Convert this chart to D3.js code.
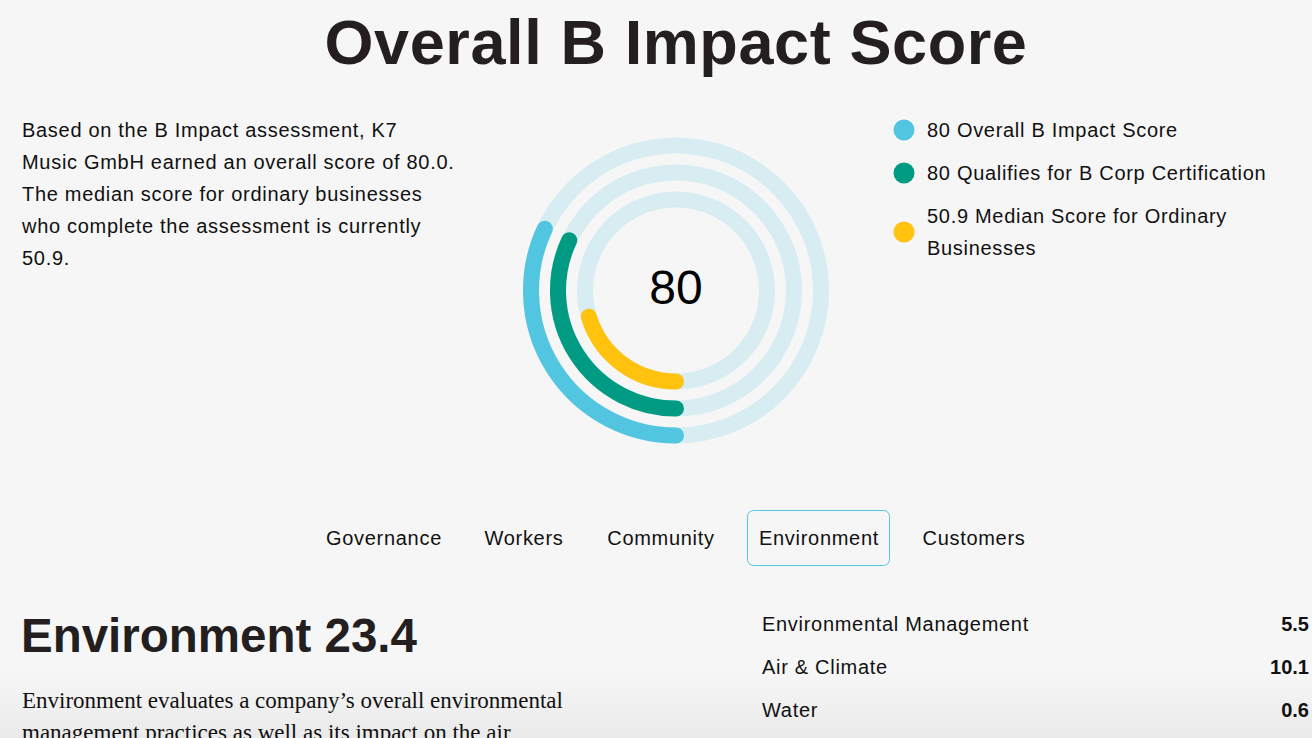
<!DOCTYPE html>
<html><head><meta charset="utf-8">
<script src="https://cdn.jsdelivr.net/npm/d3@7"></script>
<style>
html,body{margin:0;padding:0;background:#f6f6f6;overflow:hidden}
svg{display:block}
</style></head><body>
<svg id="c" width="1312" height="738"></svg>
<script>
const title = "Overall B Impact Score";
const introLines = ["Based on the B Impact assessment, K7","Music GmbH earned an overall score of 80.0.","The median score for ordinary businesses","who complete the assessment is currently","50.9."];
const seriesNames = ["Overall B Impact Score","Qualifies for B Corp Certification","Median Score for Ordinary Businesses"];
const seriesValues = [80, 80, 50.9];
const seriesColors = ["#52c6e0","#009b82","#ffc20e"];
const scoreMax = 250;
const centerLabel = "80";
const tabs = ["Governance","Workers","Community","Environment","Customers"];
const activeTab = "Environment";
const sectionTitle = "Environment 23.4";
const sectionText = ["Environment evaluates a company\u2019s overall environmental","management practices as well as its impact on the air,"];
const subCats = ["Environmental Management","Air & Climate","Water"];
const subVals = [5.5, 10.1, 0.6];

const svg = d3.select("#c");
const sans = "'Liberation Sans', Arial, Helvetica, sans-serif";
const FS = 20, LS = 0.7;
const defs = svg.append("defs");
const g1 = defs.append("linearGradient").attr("id","fade").attr("x1",0).attr("y1",0).attr("x2",0).attr("y2",1);
g1.append("stop").attr("offset","0%").attr("stop-color","#000").attr("stop-opacity",0);
g1.append("stop").attr("offset","100%").attr("stop-color","#000").attr("stop-opacity",0.05);

svg.append("text").attr("x",676).attr("y",64).attr("text-anchor","middle")
  .attr("font-family",sans).attr("font-weight","bold").attr("font-size",63).attr("letter-spacing",0.6)
  .attr("fill","#231f20").text(title);

svg.append("g").selectAll("text").data(introLines).join("text")
  .attr("x",22).attr("y",(d,i)=>137+i*32).attr("font-family",sans).attr("font-size",FS).attr("letter-spacing",LS)
  .attr("fill","#111").text(d=>d);

// rings
const cx=676, cy=290.5;
const radii=[145,118,91];
const ang = d3.scaleLinear().domain([0,scoreMax]).range([Math.PI, 3*Math.PI]);
const ring = svg.append("g").attr("transform",`translate(${cx},${cy})`);
ring.selectAll("circle.track").data(radii).join("circle").attr("class","track")
  .attr("r",d=>d).attr("fill","none").attr("stroke","#d7edf2").attr("stroke-width",16);
function arcPath(r,v){
  const p=d3.path();
  const a0=ang(0)-Math.PI/2, a1=ang(v)-Math.PI/2;
  p.arc(0,0,r,a0,a1,false);
  return p.toString();
}
ring.selectAll("path.val").data(seriesValues).join("path").attr("class","val")
  .attr("d",(d,i)=>arcPath(radii[i],d)).attr("fill","none")
  .attr("stroke",(d,i)=>seriesColors[i]).attr("stroke-width",16).attr("stroke-linecap","round");
ring.append("text").attr("x",0).attr("y",13.5).attr("text-anchor","middle")
  .attr("font-family",sans).attr("font-size",48).attr("fill","#000").text(centerLabel);

// legend
const legY=[130,173,232];
const leg = svg.append("g");
seriesNames.forEach((n,i)=>{
  leg.append("circle").attr("cx",904).attr("cy",legY[i]).attr("r",10.5).attr("fill",seriesColors[i]);
});
const lt = (x,y)=>leg.append("text").attr("x",x).attr("y",y).attr("font-family",sans).attr("font-size",FS).attr("letter-spacing",LS).attr("fill","#111");
lt(927,137).text(seriesValues[0]+" "+seriesNames[0]);
lt(927,180).text(seriesValues[1]+" "+seriesNames[1]);
const t3=lt(927,223);
t3.append("tspan").attr("x",927).attr("y",223).text(seriesValues[2]+" Median Score for Ordinary");
t3.append("tspan").attr("x",927).attr("y",255).text("Businesses");

// tabs
const tabX=[384,524,661,819,974];
svg.append("rect").attr("x",747.5).attr("y",510.5).attr("width",142).attr("height",55).attr("rx",6)
  .attr("fill","none").attr("stroke","#52c6e0").attr("stroke-width",1);
svg.append("g").selectAll("text").data(tabs).join("text")
  .attr("x",(d,i)=>tabX[i]).attr("y",545).attr("text-anchor","middle")
  .attr("font-family",sans).attr("font-size",FS).attr("letter-spacing",LS).attr("fill","#111").text(d=>d);

// section
svg.append("text").attr("x",21).attr("y",652).attr("font-family",sans).attr("font-weight","bold")
  .attr("font-size",47.5).attr("fill","#231f20").text(sectionTitle);
svg.append("g").selectAll("text").data(sectionText).join("text")
  .attr("x",22).attr("y",(d,i)=>708+i*32).attr("font-family","'Liberation Serif', Georgia, serif")
  .attr("font-size",23).attr("fill","#111").text(d=>d);

const yRow = d3.scalePoint().domain(subCats).range([631,717]);
svg.append("g").selectAll("text").data(subCats).join("text")
  .attr("x",762).attr("y",d=>yRow(d)).attr("font-family",sans).attr("font-size",FS).attr("letter-spacing",LS).attr("fill","#111").text(d=>d);
svg.append("g").selectAll("text").data(subVals).join("text")
  .attr("x",1309).attr("y",(d,i)=>yRow(subCats[i])).attr("text-anchor","end")
  .attr("font-family",sans).attr("font-weight","bold").attr("font-size",FS).attr("fill","#111").text(d=>d.toFixed(1));

svg.append("rect").attr("x",0).attr("y",672).attr("width",1312).attr("height",66).attr("fill","url(#fade)");
</script></body></html>
